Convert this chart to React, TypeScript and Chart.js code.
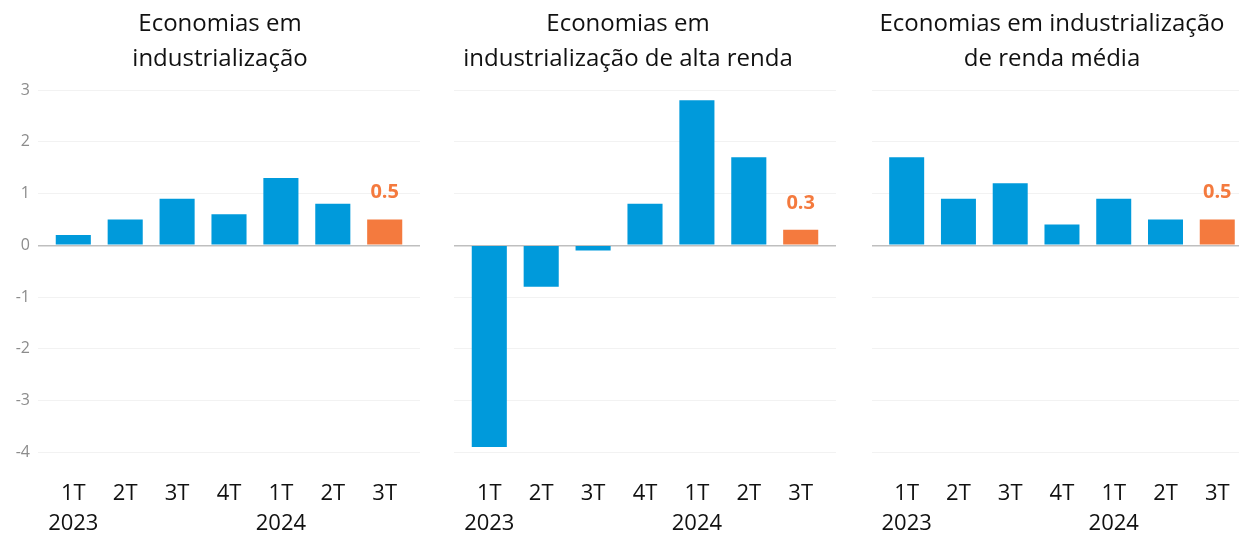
import React, { useEffect, useRef } from "react";
import { Chart, registerables } from "chart.js";

Chart.register(...registerables);

const quarters = ["1T", "2T", "3T", "4T", "1T", "2T", "3T"];
const years = ["2023", "", "", "", "2024", "", ""];

const titleAll = ["Economias em", "industrialização"];
const titleHigh = ["Economias em", "industrialização de alta renda"];
const titleMid = ["Economias em industrialização", "de renda média"];

const valuesAll = [0.2, 0.5, 0.9, 0.6, 1.3, 0.8, 0.5];
const valuesHigh = [-3.9, -0.8, -0.1, 0.8, 2.8, 1.7, 0.3];
const valuesMid = [1.7, 0.9, 1.2, 0.4, 0.9, 0.5, 0.5];

const highlightIndex = 6;

const BLUE = "#009ADB";
const ORANGE = "#F47A3E";
const FONT = "'Open Sans', 'Noto Sans', sans-serif";
const CANVAS_H = 545;

type PanelCfg = {
  title: string[];
  values: number[];
  left: number;
  width: number;
  padLeft: number;
  padRight: number;
  yWidth: number;
  y2Width: number;
  showY: boolean;
  xMin: number;
  xMax: number;
};

const labelPlugin = {
  id: "lastLabel",
  afterDatasetsDraw(chart: any) {
    const meta = chart.getDatasetMeta(0);
    const ds = chart.data.datasets[0];
    const el = meta.data[highlightIndex];
    if (!el) return;
    const v = ds.data[highlightIndex].y;
    const ctx = chart.ctx;
    ctx.save();
    ctx.fillStyle = ORANGE;
    ctx.font = `bold 20px ${FONT}`;
    ctx.textAlign = "center";
    ctx.textBaseline = v >= 0 ? "alphabetic" : "top";
    const y = v >= 0 ? el.y - 21 : el.y + 8;
    ctx.fillText(v.toFixed(1), el.x, y);
    ctx.restore();
  },
};

function Panel({ cfg }: { cfg: PanelCfg }) {
  const ref = useRef<HTMLCanvasElement>(null);
  useEffect(() => {
    if (!ref.current) return;
    const chart = new Chart(ref.current, {
      type: "bar",
      data: {
        datasets: [
          {
            data: cfg.values.map((v, i) => ({ x: i, y: v })),
            backgroundColor: cfg.values.map((_, i) => (i === highlightIndex ? ORANGE : BLUE)),
            borderWidth: 0,
            categoryPercentage: 0.8,
            barPercentage: 0.845,
            xAxisID: "x",
            yAxisID: "y",
          } as any,
        ],
      },
      options: {
        responsive: false,
        animation: false,
        layout: { padding: { left: cfg.padLeft, right: cfg.padRight, top: 0, bottom: 0 } },
        plugins: {
          legend: { display: false },
          tooltip: { enabled: false },
          title: {
            display: true,
            text: cfg.title,
            color: "#111",
            font: { family: FONT, size: 24, weight: "normal", lineHeight: 35 / 24 },
            padding: { top: 6.5, bottom: 13.5 },
          },
        },
        scales: {
          x: {
            type: "linear",
            min: cfg.xMin,
            max: cfg.xMax,
            offset: false,
            bounds: "data",
            grid: { display: false, drawTicks: false },
            border: { display: false },
            afterBuildTicks: (scale: any) => {
              scale.ticks = quarters.map((_, i) => ({ value: i }));
            },
            ticks: {
              autoSkip: false,
              maxRotation: 0,
              minRotation: 0,
              padding: 6,
              color: "#111",
              font: { family: FONT, size: 22, lineHeight: 30 / 22 },
              callback: (value: any) => {
                const i = Math.round(Number(value));
                return years[i] ? [quarters[i], years[i]] : quarters[i];
              },
            },
          },
          y: {
            type: "linear",
            position: "left",
            min: -4.4,
            max: 3,
            afterBuildTicks: (scale: any) => {
              scale.ticks = scale.ticks.filter((t: any) => Math.abs(t.value - Math.round(t.value)) < 1e-9);
            },
            afterFit: (scale: any) => {
              scale.width = cfg.yWidth;
            },
            grid: {
              drawTicks: false,
              color: (c: any) => (c.tick && c.tick.value === 0 ? "#bfbfbf" : "#f2f2f2"),
              lineWidth: (c: any) => (c.tick && c.tick.value === 0 ? 1.5 : 1),
            },
            border: { display: false },
            ticks: {
              display: cfg.showY,
              stepSize: 1,
              padding: 8,
              color: "#8c8c8c",
              font: { family: FONT, size: 16 },
            },
          },
          yPad: {
            type: "linear",
            position: "right",
            display: cfg.y2Width > 0,
            afterFit: (scale: any) => {
              scale.width = cfg.y2Width;
            },
            grid: { display: false, drawTicks: false },
            border: { display: false },
            ticks: { display: false },
          },
        },
      },
      plugins: [labelPlugin],
    } as any);
    return () => chart.destroy();
  }, [cfg]);
  return (
    <canvas
      ref={ref}
      width={cfg.width}
      height={CANVAS_H}
      style={{ position: "absolute", left: cfg.left, top: 0, width: cfg.width, height: CANVAS_H }}
    />
  );
}

const panels: PanelCfg[] = [
  { title: titleAll, values: valuesAll, left: 0, width: 428, padLeft: 12, padRight: 0, yWidth: 26, y2Width: 8, showY: true, xMin: -0.68, xMax: 6.68 },
  { title: titleHigh, values: valuesHigh, left: 420, width: 416, padLeft: 0, padRight: 0, yWidth: 34, y2Width: 0, showY: false, xMin: -0.68, xMax: 6.68 },
  { title: titleMid, values: valuesMid, left: 865, width: 374, padLeft: 0, padRight: 0, yWidth: 7, y2Width: 0, showY: false, xMin: -0.67, xMax: 6.42 },
];

export default function App() {
  return (
    <div
      style={{
        position: "fixed",
        left: 0,
        top: 0,
        width: 1239,
        height: 534,
        overflow: "hidden",
        background: "#fff",
      }}
    >
      {panels.map((p, i) => (
        <Panel key={i} cfg={p} />
      ))}
    </div>
  );
}
